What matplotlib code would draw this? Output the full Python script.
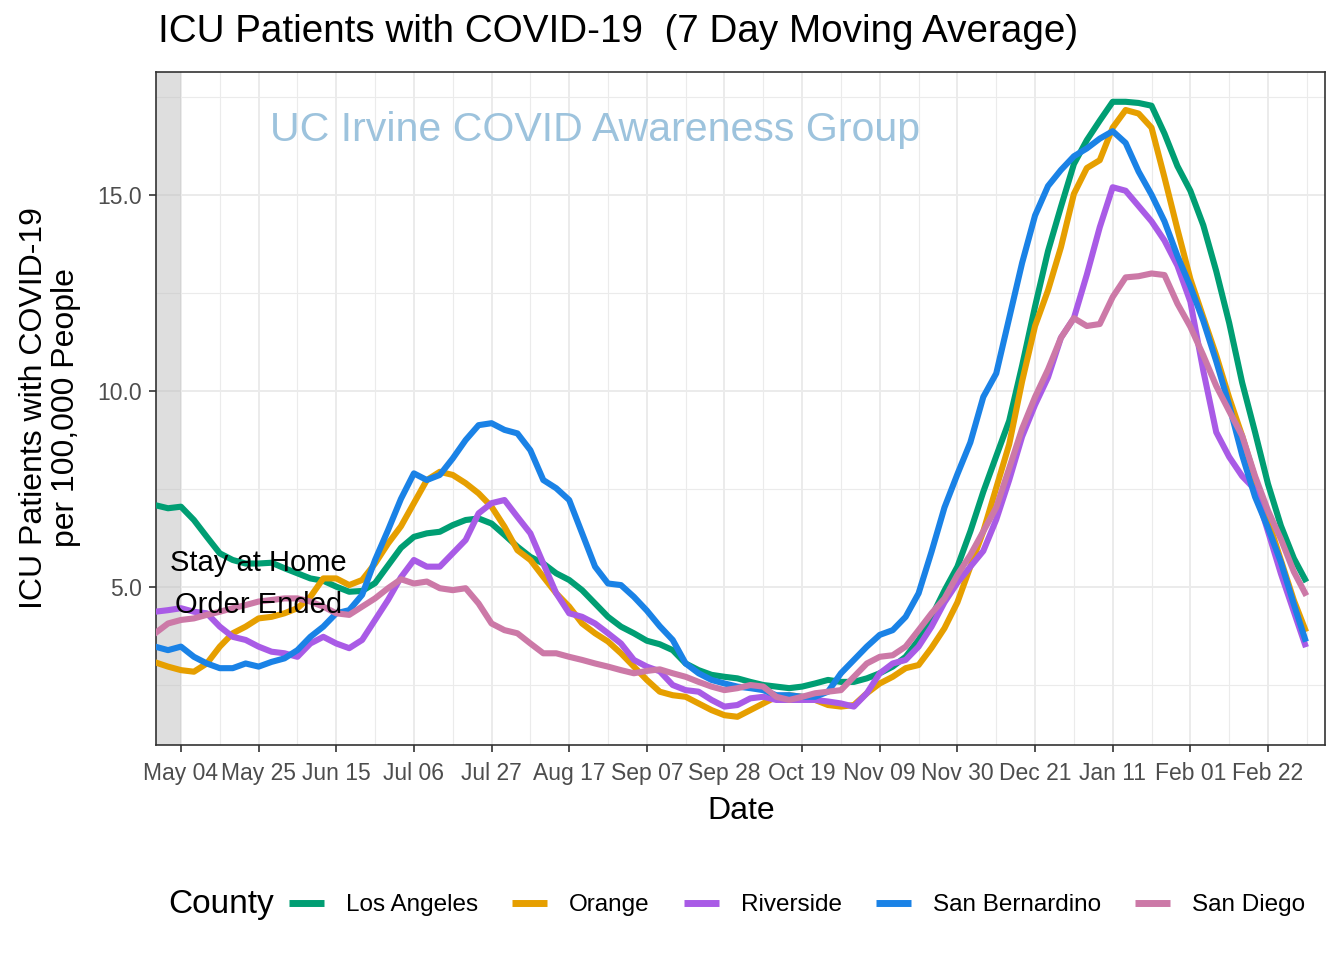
import matplotlib
matplotlib.use("Agg")
import matplotlib.pyplot as plt
import matplotlib.dates as mdates
from matplotlib.ticker import FixedLocator
from matplotlib.lines import Line2D
import pandas as pd

plt.rcParams["font.family"] = ["Liberation Sans", "DejaVu Sans"]

# ---------------------------------------------------------------------------
# Data: 7-day average ICU patients per 100k, every 3.5 days
# ---------------------------------------------------------------------------
dates = list(pd.date_range("2020-04-27", periods=89, freq="84h")) + [pd.Timestamp("2021-03-04")]

los_angeles = [7.09, 7.01, 7.05, 6.71, 6.28, 5.86, 5.69, 5.60, 5.60, 5.62,
               5.48, 5.35, 5.22, 5.16, 5.01, 4.88, 4.90, 5.10, 5.55, 6.00,
               6.28, 6.37, 6.41, 6.58, 6.71, 6.75, 6.62, 6.33, 6.03, 5.77,
               5.60, 5.35, 5.18, 4.92, 4.58, 4.24, 3.99, 3.82, 3.63, 3.54,
               3.39, 3.05, 2.88, 2.76, 2.71, 2.67, 2.58, 2.50, 2.46, 2.42,
               2.46, 2.54, 2.63, 2.58, 2.58, 2.67, 2.80, 2.97, 3.22, 3.65,
               4.24, 4.91, 5.52, 6.42, 7.43, 8.34, 9.24, 10.65, 12.16, 13.57,
               14.70, 15.79, 16.40, 16.90, 17.38, 17.38, 17.35, 17.28, 16.57, 15.74,
               15.11, 14.23, 13.06, 11.74, 10.22, 8.95, 7.63, 6.56, 5.73, 5.20]
orange = [3.08, 2.97, 2.88, 2.84, 3.05, 3.48, 3.82, 3.99, 4.20, 4.24,
          4.33, 4.46, 4.75, 5.22, 5.22, 5.05, 5.18, 5.60, 6.11, 6.55,
          7.14, 7.73, 7.94, 7.86, 7.65, 7.39, 7.05, 6.54, 5.94, 5.69,
          5.26, 4.84, 4.50, 4.07, 3.82, 3.61, 3.31, 2.97, 2.63, 2.33,
          2.24, 2.20, 2.03, 1.86, 1.73, 1.69, 1.86, 2.03, 2.20, 2.24,
          2.20, 2.12, 1.99, 1.95, 1.99, 2.29, 2.54, 2.71, 2.93, 3.01,
          3.45, 3.95, 4.61, 5.52, 6.42, 7.53, 8.64, 10.25, 11.66, 12.57,
          13.67, 15.03, 15.69, 15.89, 16.72, 17.17, 17.08, 16.72, 15.45, 14.13,
          12.86, 11.88, 10.91, 9.83, 8.86, 7.78, 6.71, 5.68, 4.66, 3.93]
riverside = [4.37, 4.41, 4.46, 4.37, 4.33, 3.99, 3.73, 3.65, 3.48, 3.35,
             3.31, 3.22, 3.56, 3.73, 3.56, 3.44, 3.65, 4.16, 4.67, 5.25,
             5.69, 5.52, 5.52, 5.86, 6.20, 6.88, 7.14, 7.22, 6.79, 6.37,
             5.60, 4.84, 4.33, 4.24, 4.07, 3.82, 3.56, 3.14, 2.97, 2.85,
             2.50, 2.37, 2.33, 2.12, 1.95, 1.99, 2.16, 2.20, 2.12, 2.12,
             2.12, 2.12, 2.08, 2.03, 1.95, 2.29, 2.80, 3.05, 3.14, 3.48,
             3.99, 4.61, 5.11, 5.52, 5.92, 6.72, 7.73, 8.84, 9.65, 10.35,
             11.36, 11.86, 12.97, 14.18, 15.20, 15.11, 14.72, 14.33, 13.84, 13.20,
             12.28, 10.52, 8.95, 8.32, 7.83, 7.49, 6.42, 5.34, 4.37, 3.54]
san_bernardino = [3.48, 3.39, 3.48, 3.22, 3.05, 2.93, 2.93, 3.05, 2.97, 3.09,
                  3.18, 3.39, 3.73, 3.99, 4.33, 4.41, 4.80, 5.69, 6.45, 7.25,
                  7.90, 7.73, 7.86, 8.28, 8.75, 9.13, 9.18, 9.01, 8.92, 8.49,
                  7.73, 7.52, 7.22, 6.37, 5.52, 5.09, 5.05, 4.75, 4.40, 4.00,
                  3.65, 3.05, 2.80, 2.63, 2.54, 2.46, 2.42, 2.37, 2.24, 2.24,
                  2.20, 2.20, 2.33, 2.80, 3.14, 3.48, 3.78, 3.90, 4.24, 4.84,
                  5.90, 7.03, 7.88, 8.69, 9.85, 10.45, 11.86, 13.27, 14.48, 15.23,
                  15.64, 15.99, 16.19, 16.44, 16.63, 16.33, 15.60, 15.01, 14.33, 13.45,
                  12.67, 11.79, 10.76, 9.64, 8.37, 7.30, 6.51, 5.63, 4.56, 3.68]
san_diego = [3.82, 4.07, 4.16, 4.20, 4.29, 4.37, 4.46, 4.54, 4.63, 4.67,
             4.71, 4.71, 4.63, 4.50, 4.33, 4.29, 4.50, 4.71, 4.97, 5.20,
             5.09, 5.14, 4.97, 4.92, 4.97, 4.58, 4.07, 3.90, 3.82, 3.56,
             3.31, 3.31, 3.22, 3.14, 3.05, 2.97, 2.88, 2.80, 2.86, 2.90,
             2.80, 2.71, 2.58, 2.46, 2.37, 2.42, 2.50, 2.46, 2.20, 2.12,
             2.20, 2.29, 2.33, 2.37, 2.71, 3.05, 3.22, 3.26, 3.48, 3.90,
             4.33, 4.71, 5.31, 5.82, 6.42, 7.03, 8.03, 9.04, 9.85, 10.55,
             11.36, 11.86, 11.66, 11.71, 12.40, 12.90, 12.93, 13.00, 12.96, 12.23,
             11.64, 10.91, 10.13, 9.49, 8.86, 7.83, 6.95, 6.22, 5.39, 4.85]

counties = ["Los Angeles", "Orange", "Riverside", "San Bernardino", "San Diego"]
series = [los_angeles, orange, riverside, san_bernardino, san_diego]
colors = ["#009E73", "#E69F00", "#A95BE6", "#1A82E6", "#CC79A7"]

order_ended = pd.Timestamp("2020-05-04")
x_lo = pd.Timestamp("2020-04-27 06:00")
x_hi = pd.Timestamp("2021-03-09 10:00")

# ---------------------------------------------------------------------------
# Figure
# ---------------------------------------------------------------------------
fig = plt.figure(figsize=(13.44, 9.6), dpi=100)
ax = fig.add_axes([156 / 1344, 1 - 745 / 960, (1325 - 156) / 1344, (745 - 72) / 960])

ax.axvspan(x_lo, order_ended, color="#BEBEBE", alpha=0.5, lw=0, zorder=1)

for vals, col, name in zip(series, colors, counties):
    ax.plot(dates, vals, color=col, lw=4.4, solid_joinstyle="round", zorder=3, label=name)

ax.set_xlim(x_lo, x_hi)
ax.set_ylim(0.97, 18.14)

major = [order_ended + pd.Timedelta(days=21 * k) for k in range(15)]
minor = [order_ended + pd.Timedelta(days=10.5 + 21 * k) for k in range(15)]
ax.xaxis.set_major_locator(FixedLocator(mdates.date2num(major)))
ax.xaxis.set_minor_locator(FixedLocator(mdates.date2num(minor)))
ax.xaxis.set_major_formatter(mdates.DateFormatter("%b %d"))
ax.yaxis.set_major_locator(FixedLocator([5, 10, 15]))
ax.yaxis.set_minor_locator(FixedLocator([2.5, 7.5, 12.5, 17.5]))
ax.set_yticklabels(["5.0", "10.0", "15.0"])

ax.grid(which="major", color="#EBEBEB", lw=1.4, zorder=0)
ax.grid(which="minor", color="#EBEBEB", lw=0.8, zorder=0)
ax.set_axisbelow(True)
for sp in ax.spines.values():
    sp.set_color("#333333")
    sp.set_linewidth(1.2)
ax.tick_params(which="major", length=5, width=1.2, color="#333333",
               labelsize=16.5, labelcolor="#4D4D4D")
ax.tick_params(axis="x", which="major", pad=7)
ax.tick_params(axis="y", which="major", pad=5)
ax.tick_params(which="minor", length=0)

# annotation and watermark
ax.text(pd.Timestamp("2020-05-25"), 5.08, "Stay at Home\nOrder Ended", ha="center",
        va="center", fontsize=21, color="black", linespacing=1.6, zorder=4)
ax.text(595 / 1344, 1 - 130 / 960, "UC Irvine COVID Awareness Group",
        transform=fig.transFigure, ha="center", va="center", fontsize=29.6,
        color="#9DC3DD", zorder=2)

# titles
fig.text(158 / 1344, 1 - 32 / 960, "ICU Patients with COVID-19  (7 Day Moving Average)",
         ha="left", va="center", fontsize=27.8)
fig.text(50 / 1344, 1 - 408 / 960, "ICU Patients with COVID-19\nper 100,000 People",
         rotation=90, ha="center", va="center", fontsize=23, linespacing=1.05)
fig.text(741 / 1344, 1 - 811 / 960, "Date", ha="center", va="center", fontsize=23)

# legend along the bottom
handles = [Line2D([], [], color=c, lw=5, solid_capstyle="butt") for c in colors]
fig.text(168 / 1344, 1 - 905 / 960, "County", ha="left", va="center", fontsize=24)
fig.legend(handles, counties, loc="center", bbox_to_anchor=(797 / 1344, 1 - 905 / 960),
           ncol=5, frameon=False, fontsize=17.5, handlelength=1.45, handletextpad=0.9,
           columnspacing=1.4)

fig.savefig("out.png", dpi=100)
